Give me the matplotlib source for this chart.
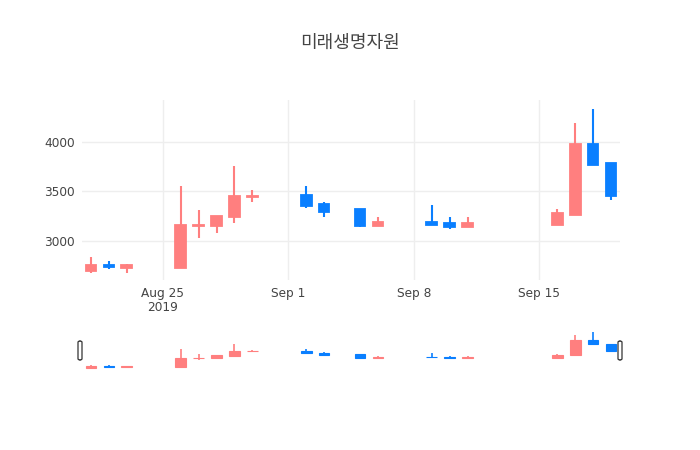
import matplotlib
matplotlib.use("Agg")
import matplotlib.pyplot as plt
import matplotlib.dates as mdates
from matplotlib.patches import FancyBboxPatch
import numpy as np
import pandas as pd

plt.rcParams["font.family"] = ["Noto Sans CJK KR", "DejaVu Sans"]

dates = ["2019-08-21", "2019-08-22", "2019-08-23", "2019-08-26", "2019-08-27",
         "2019-08-28", "2019-08-29", "2019-08-30", "2019-09-02", "2019-09-03",
         "2019-09-05", "2019-09-06", "2019-09-09", "2019-09-10", "2019-09-11",
         "2019-09-16", "2019-09-17", "2019-09-18", "2019-09-19"]
opens  = [2690, 2750, 2725, 2725, 3145, 3145, 3240, 3440, 3460, 3375,
          3320, 3145, 3185, 3175, 3140, 3155, 3265, 3985, 3790]
highs  = [2830, 2790, 2765, 3555, 3315, 3255, 3760, 3520, 3555, 3395,
          3325, 3245, 3360, 3235, 3245, 3320, 4195, 4340, 3790]
lows   = [2665, 2715, 2665, 2725, 3030, 3080, 3175, 3390, 3335, 3240,
          3140, 3145, 3160, 3115, 3135, 3155, 3265, 3770, 3410]
closes = [2750, 2730, 2750, 3155, 3155, 3250, 3455, 3455, 3355, 3290,
          3145, 3185, 3160, 3135, 3175, 3280, 3985, 3770, 3450]

title = "미래생명자원"
tick_dates = ["2019-08-25", "2019-09-01", "2019-09-08", "2019-09-15"]
tick_labels = ["Aug 25\n2019", "Sep 1", "Sep 8", "Sep 15"]
y_ticks = [3000, 3500, 4000]

UP = "#ff7f7f"
DOWN = "#0a7fff"
TXT = "#444444"
GRID = "#eeeeee"

x = mdates.date2num(pd.to_datetime(dates))
o = np.array(opens); h = np.array(highs); l = np.array(lows); c = np.array(closes)
colors = [UP if cc > oo else DOWN for oo, cc in zip(o, c)]

W, H = 700, 450
fig = plt.figure(figsize=(7, 4.5), dpi=100)
left, right = 82 / W, 620 / W
ax = fig.add_axes([left, (H - 280) / H, right - left, 180 / H])
sl = fig.add_axes([left, (H - 369.5) / H, right - left, 39.5 / H])

xmin, xmax = x.min() - 0.5, x.max() + 0.5
span = h.max() - l.min()
ymin, ymax = l.min() - 0.04 * span, h.max() + 0.055 * span


def draw_candles(a, wick_lw, body_lw):
    for xi, oo, hh, ll, cc, col in zip(x, o, h, l, c, colors):
        a.vlines(xi, ll, hh, color=col, linewidth=wick_lw, zorder=2)
        lo, hi = min(oo, cc), max(oo, cc)
        a.bar(xi, hi - lo, bottom=lo, width=0.6, color=col, edgecolor=col,
              linewidth=body_lw, zorder=3)


draw_candles(ax, 1.5, 1.3)
ax.set_xlim(xmin, xmax)
ax.set_ylim(ymin, ymax)
ax.set_xticks(mdates.date2num(pd.to_datetime(tick_dates)))
ax.set_xticklabels(tick_labels, fontsize=8.7, color=TXT, family=["DejaVu Sans"],
                   linespacing=1.15)
ax.set_yticks(y_ticks)
ax.set_yticklabels([str(v) for v in y_ticks], fontsize=8.7, color=TXT,
                   family=["DejaVu Sans"])
ax.tick_params(length=0, pad=5)
ax.grid(True, color=GRID, linewidth=1)
ax.set_axisbelow(True)
for s in ax.spines.values():
    s.set_visible(False)

draw_candles(sl, 1.2, 0.8)
sl.set_xlim(xmin, xmax)
sl.set_ylim(ymin, ymax)
sl.set_xticks([]); sl.set_yticks([])
for s in sl.spines.values():
    s.set_visible(False)

# range slider handles
for hx in (80, 620):
    fig.patches.append(FancyBboxPatch(((hx - 2) / W, (H - 360) / H), 4 / W, 19 / H,
                                      boxstyle="round,pad=0,rounding_size=0.003",
                                      transform=fig.transFigure, facecolor="white",
                                      edgecolor="#333333", linewidth=0.9, zorder=5))

fig.text(350 / W, 1 - 43 / H, title, ha="center", va="center", fontsize=13, color=TXT)

fig.savefig("out.png", dpi=100, facecolor="white")
